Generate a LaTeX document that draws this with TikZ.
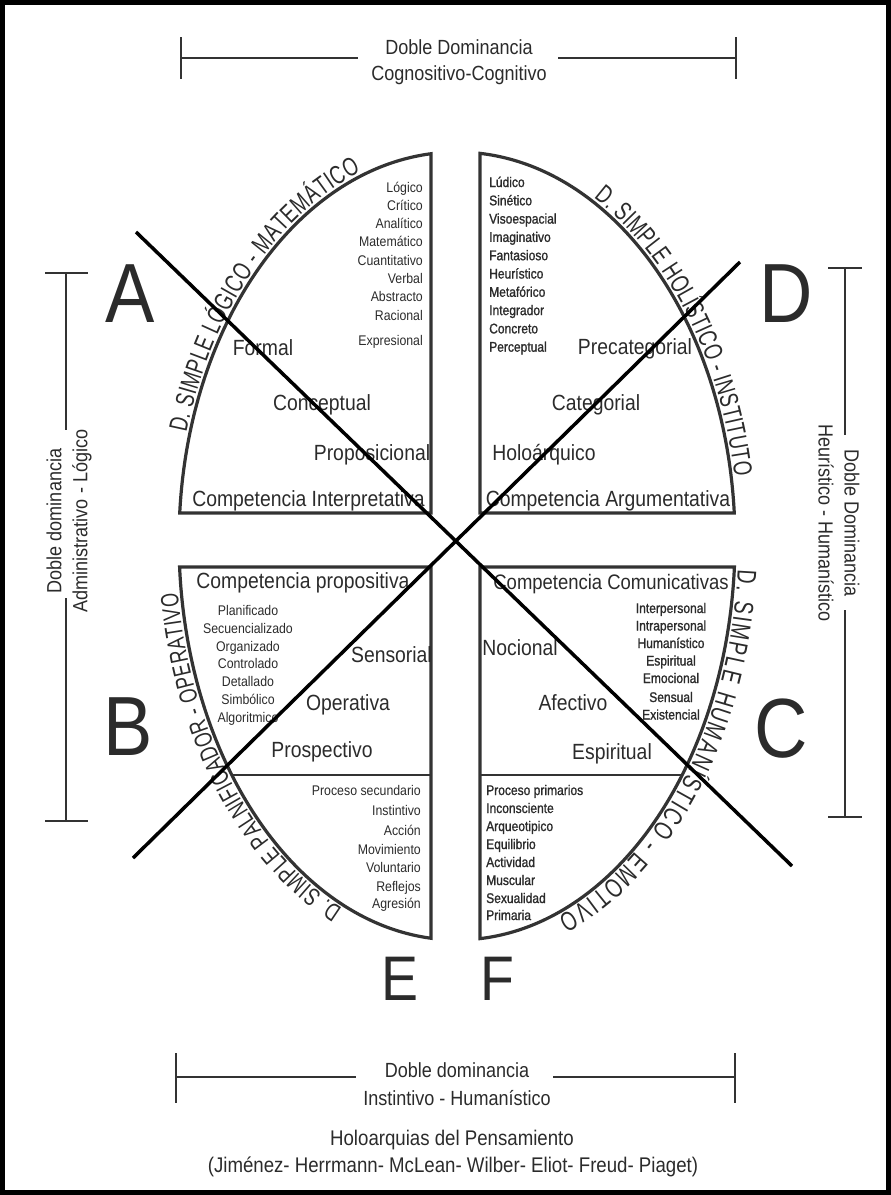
\documentclass[tikz,border=0pt]{standalone}
\usepackage{fontspec}
\setmainfont{Liberation Sans}[FakeStretch=0.88]
\newfontfamily\arcfam{Liberation Sans}[FakeStretch=0.72]
\newfontfamily\darkfam{Liberation Sans}[FakeStretch=0.86,FakeBold=1.2]
\usetikzlibrary{decorations.text}
\definecolor{ink}{HTML}{2B2B2B}
\definecolor{edge}{HTML}{333333}
\newcommand\myarcA{\arcfam\fontsize{26}{26}\selectfont}
\newcommand\myarcB{\arcfam\fontsize{25}{25}\selectfont}
\newcommand\myarcC{\arcfam\fontsize{27}{27}\selectfont}
\begin{document}
\begin{tikzpicture}[x=1pt,y=1pt,
  txt/.style={text=ink, inner sep=0pt, anchor=base},
  big/.style={txt, font=\fontsize{22}{24}\selectfont},
  lst/.style={txt, font=\fontsize{14}{16}\selectfont},
  dlst/.style={txt, font=\darkfam\fontsize{14}{16}\selectfont},
  letter/.style={txt, font=\fontsize{84}{84}\selectfont},
  letterb/.style={txt, font=\fontsize{63}{63}\selectfont},
  brk/.style={text=ink, inner sep=0pt, align=center, font=\fontsize{20.5}{26}\selectfont},
  brktxt/.style={txt, font=\fontsize{20.5}{26}\selectfont},
  foottxt/.style={txt, font=\fontsize{21.2}{24}\selectfont},
  quad/.style={draw=edge, line width=3.2pt, line join=miter},
  divider/.style={draw=edge, line width=2.2pt},
  cross/.style={draw=black, line width=3.5pt},
  bracket/.style={draw=edge, line width=1.6pt},
  arclabel/.style={decorate, decoration={text along path, text align=fit to path, text color=ink}}
]
\useasboundingbox (0,0) rectangle (891,-1195);
\draw[line width=5pt] (2.5,-2.5) rectangle (888.5,-1192.5);

% ---------- quadrants ----------
\draw[quad] (431,-513) -- (179.72,-513) arc[start angle=175.872, end angle=95.366, x radius=278, y radius=389] -- cycle;
\draw[quad] (480,-513) -- (734.28,-513) arc[start angle=4.128, end angle=85.254, x radius=278, y radius=389] -- cycle;
\draw[quad] (431,-567) -- (179.59,-567) arc[start angle=183.736, end angle=264.634, x radius=278, y radius=399] -- cycle;
\draw[quad] (480,-567) -- (734.41,-567) arc[start angle=-3.736, end angle=-85.254, x radius=278, y radius=399] -- cycle;
\coordinate (bdl) at (231.8,-775); \coordinate (bdr) at (431,-775);
\coordinate (cdl) at (480,-775); \coordinate (cdr) at (682.2,-775);
\draw[divider] (bdl) -- (bdr);
\draw[divider] (cdl) -- (cdr);

% ---------- arc labels ----------
\path[arclabel, decoration={text={|\myarcA|D. SIMPLE LÓGICO - MATEMÁTICO}}]
  (457,-541) ++(164:281.5 and 392.5) arc[start angle=164, end angle=110, x radius=281.5, y radius=392.5];
\path[arclabel, decoration={text={|\myarcA|D. SIMPLE HOLÍSTICO - INSTITUTO}}]
  (457,-541) ++(61:281.5 and 392.5) arc[start angle=61, end angle=9.5, x radius=281.5, y radius=392.5];
\path[arclabel, decoration={text={|\myarcB|D. SIMPLE PALNIFICADOR - OPERATIVO}}]
  (457,-541) ++(246:281.5 and 402.5) arc[start angle=246, end angle=187.4, x radius=281.5, y radius=402.5];
\path[arclabel, decoration={text={|\myarcC|D. SIMPLE HUMANÍSTICO - EMOTIVO}}]
  (457,-541) ++(-4:281.5 and 402.5) arc[start angle=-4, end angle=-69, x radius=281.5, y radius=402.5];

% ---------- quadrant A ----------
\foreach \t [count=\i] in {Lógico,Crítico,Analítico,Matemático,Cuantitativo,Verbal,Abstracto,Racional}
  \node[lst, anchor=base east] (a\i) at (423,{-(187+18.3*(\i-1))-5}) {\t};
\node[lst, anchor=base east] (a9) at (423,-345) {Expresional};
\node[big] (aFormal) at (263,-355) {Formal};
\node[big] (aConc) at (322,-410.5) {Conceptual};
\node[big] (aProp) at (372,-460.5) {Proposicional};
\node[big] (aComp) at (308.5,-506) {Competencia Interpretativa};

% ---------- quadrant D ----------
\foreach \t [count=\i] in {Lúdico,Sinético,Visoespacial,Imaginativo,Fantasioso,Heurístico,Metafórico,Integrador,Concreto,Perceptual}
  \node[dlst, anchor=base west] (d\i) at (489,{-(182+18.3*(\i-1))-5}) {\t};
\node[big] (dPre) at (635,-354.5) {Precategorial};
\node[big] (dCat) at (596,-410.5) {Categorial};
\node[big] (dHol) at (544,-460.5) {Holoárquico};
\node[big] (dComp) at (608,-506) {Competencia Argumentativa};

% ---------- quadrant B ----------
\node[big] (bComp) at (303,-588) {Competencia propositiva};
\foreach \t/\y [count=\i] in {Planificado/610,Secuencializado/628,Organizado/646,Controlado/663.5,Detallado/681,Simbólico/699,Algoritmico/717}
  \node[lst] (b\i) at (248,{-\y-5}) {\t};
\node[big, anchor=base east] (bSen) at (432,-662) {Sensorial};
\node[big] (bOpe) at (348,-710.5) {Operativa};
\node[big] (bPro) at (322,-757) {Prospectivo};
\foreach \t/\y [count=\i] in {Proceso secundario/790,Instintivo/810,Acción/830,Movimiento/849,Voluntario/867.5,Reflejos/886,Agresión/903}
  \node[lst, anchor=base east] (be\i) at (421,{-\y-5}) {\t};

% ---------- quadrant C ----------
\node[txt, font=\fontsize{21}{24}\selectfont] (cComp) at (611,-589) {Competencia Comunicativas};
\foreach \t/\y [count=\i] in {Interpersonal/608,Intrapersonal/625.5,Humanístico/643,Espiritual/660.5,Emocional/678,Sensual/697,Existencial/714.5}
  \node[dlst] (c\i) at (671,{-\y-5}) {\t};
\node[big] (cNoc) at (520,-655.5) {Nocional};
\node[big] (cAfe) at (573,-710.5) {Afectivo};
\node[big] (cEsp) at (612,-759) {Espiritual};
\foreach \t/\y [count=\i] in {Proceso primarios/790,Inconsciente/808,Arqueotipico/826,Equilibrio/844,Actividad/862,Muscular/880,Sexualidad/898,Primaria/915}
  \node[dlst, anchor=base west] (cf\i) at (486,{-\y-5}) {\t};

% ---------- big letters ----------
\node[letter] (LA) at (130,-322) {A};
\node[letter] (LB) at (128,-755) {B};
\node[letter] (LC) at (781,-757) {C};
\node[letter] (LD) at (786,-322) {D};
\node[letterb] (LE) at (400,-1000) {E};
\node[letterb] (LF) at (497,-1000) {F};

% ---------- crossing lines ----------
\coordinate (x1) at (136,-232); \coordinate (x2) at (792,-866);
\coordinate (y1) at (133,-858); \coordinate (y2) at (740,-262);
\draw[cross] (x1) -- (x2);
\draw[cross] (y1) -- (y2);

% ---------- top bracket ----------
\node[brktxt] (top1) at (459,-54) {Doble Dominancia};
\node[brktxt] (top2) at (459,-80.5) {Cognositivo-Cognitivo};
\coordinate (tl) at (181,-58); \coordinate (tr) at (736,-58);
\coordinate (tlg) at (358,-58); \coordinate (trg) at (558,-58);
\draw[bracket] (181,-37) -- (181,-79);
\draw[bracket] (736,-37) -- (736,-79);
\draw[bracket] (tl) -- (tlg);
\draw[bracket] (trg) -- (tr);

% ---------- bottom bracket ----------
\node[brktxt] (bot1) at (457,-1077) {Doble dominancia};
\node[brktxt] (bot2) at (457,-1105) {Instintivo - Humanístico};
\coordinate (bl) at (176,-1077); \coordinate (br) at (735,-1077);
\coordinate (blg) at (356,-1077); \coordinate (brg) at (553,-1077);
\draw[bracket] (176,-1053) -- (176,-1103);
\draw[bracket] (735,-1053) -- (735,-1103);
\draw[bracket] (bl) -- (blg);
\draw[bracket] (brg) -- (br);

% ---------- left bracket ----------
\node[brk, rotate=90] (lefttxt) at (69,-521) {Doble dominancia\\Administrativo - Lógico};
\coordinate (lt) at (66,-273); \coordinate (lb) at (66,-821);
\coordinate (ltg) at (66,-430); \coordinate (lbg) at (66,-598);
\draw[bracket] (45,-273) -- (88,-273);
\draw[bracket] (45,-821) -- (88,-821);
\draw[bracket] (lt) -- (ltg);
\draw[bracket] (lbg) -- (lb);

% ---------- right bracket ----------
\node[brk, rotate=-90] (righttxt) at (839,-523) {Doble Dominancia\\Heurístico - Humanístico};
\coordinate (rt) at (845,-268); \coordinate (rb) at (845,-817);
\coordinate (rtg) at (845,-435); \coordinate (rbg) at (845,-610);
\draw[bracket] (828,-268) -- (862,-268);
\draw[bracket] (828,-817) -- (862,-817);
\draw[bracket] (rt) -- (rtg);
\draw[bracket] (rbg) -- (rb);

% ---------- footer ----------
\node[foottxt] (foot1) at (452,-1145.5) {Holoarquias del Pensamiento};
\node[foottxt] (foot2) at (453,-1172.5) {(Jiménez- Herrmann- McLean- Wilber- Eliot- Freud- Piaget)};
\end{tikzpicture}
\end{document}
